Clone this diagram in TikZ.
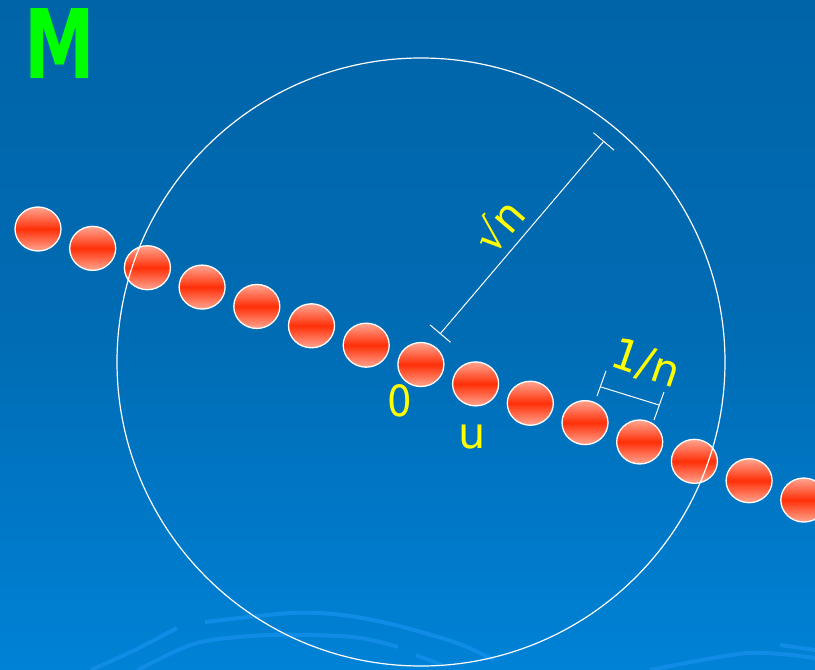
\documentclass[tikz,border=0pt]{standalone}
\usepackage{fontspec}
\setmainfont{DejaVu Sans}
\usetikzlibrary{shapes.geometric,arrows.meta}
\definecolor{bgtop}{RGB}{0,100,168}
\definecolor{bgmid}{RGB}{0,108,180}
\definecolor{bgbot}{RGB}{0,130,214}
\definecolor{ballmid}{RGB}{255,48,8}
\definecolor{balledge}{RGB}{255,165,145}
\definecolor{lab}{RGB}{255,255,0}
\definecolor{mgreen}{RGB}{0,255,0}
\definecolor{arcc}{RGB}{16,140,230}
\begin{document}
\begin{tikzpicture}[x=1pt,y=1pt,
  ball/.style={ellipse, minimum width=46pt, minimum height=44pt, inner sep=0pt,
    draw=white, line width=1.3pt, top color=balledge, bottom color=balledge, middle color=ballmid},
  lbl/.style={text=lab, font=\fontsize{43}{43}\selectfont, inner sep=0pt},
  wline/.style={draw=white, line width=1pt},
  deco/.style={draw=arcc, line width=4pt}]
\useasboundingbox (0,0) rectangle (815,-670);
\shade[top color=bgtop, bottom color=bgbot, middle color=bgmid] (0,0) rectangle (815,-670);
% faint background arcs
\draw[deco] plot[smooth] coordinates {(177,-628) (135,-650) (91,-670)};
\draw[deco] plot[smooth] coordinates {(205,-622) (291,-613) (343,-615) (395,-625) (457,-643) (494,-660)};
\draw[deco] plot[smooth] coordinates {(138,-670) (197,-643) (270,-635) (353,-637) (398,-647)};
\draw[deco] (416,-655) -- (442,-665);
\draw[deco] plot[smooth] coordinates {(650,-670) (748,-653) (815,-658)};
\draw[deco] (780,-645) -- (815,-650);
% balls
\foreach \i in {1,...,15}
  \node[ball] (b\i) at ({38+54.7*(\i-1)}, {-229-19.36*(\i-1)}) {};
% circle
\draw[white, line width=1.2pt] (421,-362) circle (304);
% radius
\coordinate (r0) at (440,-334);
\coordinate (r1) at (604,-141);
\draw[wline, {Bar[width=27pt]}-{Bar[width=27pt]}] (r0) -- (r1);
% 1/n bracket
\coordinate (s0) at (601,-387);
\coordinate (s1) at (659,-405);
\coordinate (t0a) at (597,-396);
\coordinate (t0b) at (606,-371);
\coordinate (t1a) at (654,-420);
\coordinate (t1b) at (664,-392);
\draw[wline] (s0) -- (s1);
\draw[wline] (t0a) -- (t0b);
\draw[wline] (t1a) -- (t1b);
% labels
\node[lbl, rotate=49.5] (sq) at (498,-225) {√n};
\node[lbl, rotate=-19] (inv) at (646,-364) {1/n};
\node[lbl, xscale=0.9] (zero) at (400,-401) {0};
\node[lbl] (u) at (472,-437) {u};
\node[text=mgreen, font=\bfseries\fontsize{96}{96}\selectfont, xscale=0.74, inner sep=0pt] (M) at (59.5,-44) {M};
\end{tikzpicture}
\end{document}
